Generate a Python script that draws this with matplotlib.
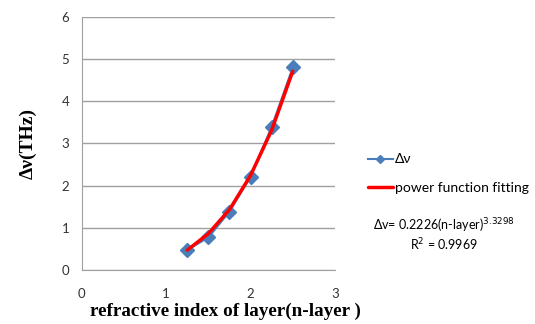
import matplotlib.pyplot as plt

# data
n_layer = [1.25, 1.5, 1.75, 2.0, 2.25, 2.5]
delta_nu = [0.47, 0.77, 1.38, 2.21, 3.39, 4.80]
fit_vals = [0.47, 0.86, 1.43, 2.24, 3.31, 4.71]

x_ticks = [0, 1, 2, 3]
y_ticks = [0, 1, 2, 3, 4, 5, 6]

fig = plt.figure(figsize=(5.35, 3.24), dpi=100)
ax = fig.add_axes([0.153, 0.167, 0.473, 0.781])

ax.plot(n_layer, delta_nu, color='#4a7ebb', lw=1.5, marker='D', ms=7,
        markeredgecolor='#4a7ebb', label='Δν', zorder=3)
ax.plot(n_layer, fit_vals, color='#ff0000', lw=2.5, label='power function fitting',
        zorder=4, solid_capstyle='round', solid_joinstyle='round')

ax.set_xlim(0, 3)
ax.set_ylim(0, 6)
ax.set_xticks(x_ticks)
ax.set_yticks(y_ticks)
ax.tick_params(length=0, labelsize=9.5, labelcolor='#333333')
ax.tick_params(axis='x', pad=13)
ax.tick_params(axis='y', pad=9)
for lab in ax.get_xticklabels() + ax.get_yticklabels():
    lab.set_family('Lato')

ax.grid(axis='y', color='#a0a0a0', lw=1)
ax.set_axisbelow(True)
for s in ['top', 'right']:
    ax.spines[s].set_visible(False)
ax.spines['left'].set_color('#a0a0a0')
ax.spines['bottom'].set_color('#a0a0a0')

ax.set_xlabel('refractive index of layer(n-layer )', family='Liberation Serif',
              fontweight='bold', fontsize=13.8)
ax.xaxis.set_label_coords(0.567, -0.13)
ax.set_ylabel('Δν(THz)', family='Liberation Serif', fontweight='bold',
              fontsize=14, labelpad=18)

leg = ax.legend(loc='center left', bbox_to_anchor=(1.11, 0.38), frameon=False,
                prop={'family': 'Lato', 'size': 10}, handlelength=1.75,
                labelspacing=1.2, handletextpad=0.15, borderaxespad=0,
                markerscale=0.6)

fig.text(0.83, 0.276, 'Δv= 0.2226(n-layer)$^{3.3298}$\nR$^2$ = 0.9969',
         ha='center', va='center', family='Lato', fontsize=9, linespacing=1.15)

plt.savefig('out.png', dpi=100)
